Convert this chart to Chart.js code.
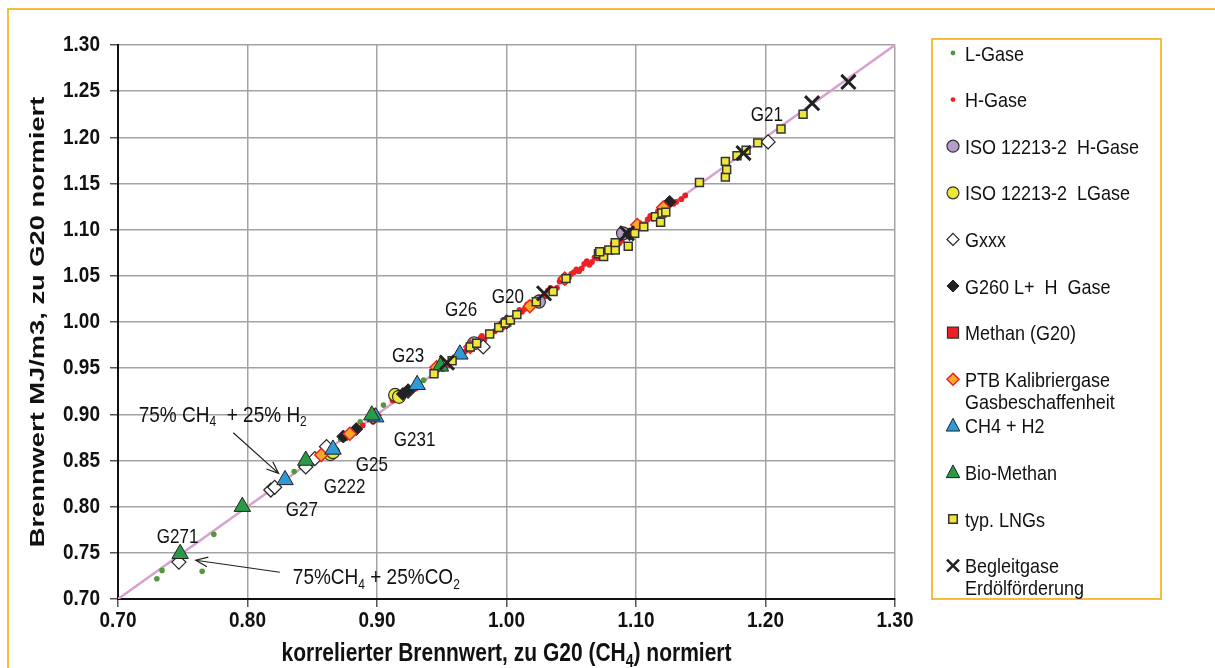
<!DOCTYPE html>
<html><head><meta charset="utf-8">
<script src="https://cdn.jsdelivr.net/npm/chart.js@4.4.0/dist/chart.umd.min.js"></script>
<style>
html,body{margin:0;padding:0;background:#fff;overflow:hidden;}
#wrap{position:relative;width:1215px;height:668px;overflow:hidden;}
#frame{position:absolute;left:7px;top:8px;width:1400px;height:900px;border:2px solid #f6bd3c;box-sizing:border-box;}
canvas{position:absolute;left:0;top:0;}
</style></head><body>
<div id="wrap"><div id="frame"></div><canvas id="c" width="1215" height="668"></canvas></div>
<script>
// ---------- data ----------
const xTicks = [0.70, 0.80, 0.90, 1.00, 1.10, 1.20, 1.30];
const yTicks = [0.70, 0.75, 0.80, 0.85, 0.90, 0.95, 1.00, 1.05, 1.10, 1.15, 1.20, 1.25, 1.30];
const xTitle = [['korrelierter Brennwert, zu G20 (CH',0],['4',1],[') normiert',0]];
const yTitle = [['Brennwert MJ/m3, zu G20 normiert',0]];

const seriesNames = ['L-Gase', 'H-Gase', 'ISO 12213-2  H-Gase', 'ISO 12213-2  LGase', 'Gxxx',
  'G260 L+  H  Gase', 'Methan (G20)', 'PTB Kalibriergase\nGasbeschaffenheit', 'CH4 + H2',
  'Bio-Methan', 'typ. LNGs', 'Begleitgase\nErdölförderung'];

const lGase = [[0.730,0.722],[0.734,0.731],[0.746,0.740],[0.765,0.730],[0.774,0.770],[0.836,0.838],
  [0.851,0.852],[0.858,0.860],[0.872,0.873],[0.887,0.892],[0.905,0.910],[0.913,0.915],[0.936,0.937],[0.945,0.947]];
const hGase = [[0.876,0.874],[0.889,0.888],[0.897,0.892],[0.912,0.915],[0.930,0.928],[0.944,0.946],[0.951,0.949],
  [0.958,0.960],[0.963,0.966],[0.968,0.968],[0.972,0.975],[0.978,0.979],[0.983,0.981],[0.986,0.989],[0.991,0.990],
  [0.995,0.997],[0.999,1.002],[1.004,1.003],[1.008,1.010],[1.012,1.011],[1.016,1.019],[1.020,1.018],[1.025,1.027],
  [1.030,1.028],[1.034,1.037],[1.039,1.037],[1.043,1.046],[1.048,1.049],[1.052,1.054],[1.056,1.055],[1.060,1.063],
  [1.064,1.062],[1.068,1.070],[1.072,1.073],[1.076,1.078],[1.080,1.079],[1.085,1.087],[1.089,1.088],[1.093,1.096],
  [1.097,1.097],[1.101,1.104],[1.105,1.104],[1.109,1.111],[1.113,1.112],[1.117,1.120],[1.121,1.121],[1.125,1.128],
  [1.129,1.128],[1.135,1.133],[1.201,1.197],
  [0.947,0.950],[0.955,0.953],[0.961,0.963],[0.966,0.964],[0.970,0.972],[0.975,0.973],[0.980,0.983],[0.981,0.985],
  [0.988,0.986],[0.993,0.995],[0.997,0.994],[1.001,1.004],[1.006,1.006],[1.010,1.013],[1.014,1.014],[1.018,1.021],
  [1.022,1.023],[1.027,1.025],[1.032,1.034],[1.036,1.035],[1.041,1.044],[1.045,1.043],[1.050,1.052],[1.054,1.057],
  [1.058,1.058],[1.062,1.066],[1.066,1.065],[1.070,1.069],[1.074,1.077],[1.078,1.076],[1.082,1.085],[1.087,1.085],
  [1.091,1.093],[1.095,1.099],[1.099,1.098],[1.103,1.107],[1.107,1.106],[1.111,1.115],[1.115,1.114],[1.119,1.123],
  [1.123,1.122],[1.127,1.131],[1.131,1.130],[1.138,1.137]];
const isoH = [[0.975,0.977],[1.025,1.022],[1.090,1.096]];
const isoL = [[0.864,0.857],[0.866,0.859],[0.914,0.921],[0.917,0.919]];
const gxxx = [[0.747,0.740],[0.818,0.818],[0.821,0.821],[0.845,0.843],[0.852,0.852],[0.861,0.865],[0.897,0.897],
  [0.924,0.925],[0.982,0.973],[1.000,1.000],[1.202,1.195]];
const g260 = [[0.874,0.876],[0.884,0.884],[0.920,0.922],[0.924,0.926],[1.095,1.095],[1.126,1.130]];
const methan = [[1.000,1.000]];
const ptb = [[0.857,0.856],[0.879,0.879],[0.898,0.899],[0.946,0.951],[0.972,0.973],[1.018,1.017],[1.045,1.047],
  [1.101,1.105],[1.121,1.124]];
const ch4h2 = [[0.829,0.829],[0.866,0.862],[0.899,0.897],[0.931,0.932],[0.964,0.965]];
const bio = [[0.748,0.749],[0.796,0.800],[0.845,0.850],[0.896,0.899],[0.949,0.952]];
const lng = [[0.944,0.944],[0.958,0.958],[0.972,0.973],[0.977,0.977],[0.987,0.987],[0.994,0.994],[0.999,0.999],
  [1.003,1.002],[1.008,1.008],[1.023,1.022],[1.036,1.033],[1.046,1.047],[1.071,1.074],[1.075,1.071],[1.072,1.076],
  [1.079,1.078],[1.084,1.078],[1.084,1.086],[1.094,1.082],[1.099,1.096],[1.106,1.103],[1.115,1.114],[1.119,1.108],
  [1.120,1.118],[1.123,1.119],[1.149,1.151],[1.169,1.157],[1.170,1.165],[1.169,1.174],[1.178,1.180],[1.185,1.186],
  [1.194,1.194],[1.212,1.209],[1.229,1.225]];
const begleit = [[0.954,0.956],[1.029,1.031],[1.093,1.096],[1.183,1.183],[1.236,1.237],[1.264,1.260]];
const diagonal = [[0.70,0.70],[1.30,1.30]];

const gasLabels = ['G21','G20','G26','G23','G231','G25','G222','G27','G271'];
const gasLabelX = [1.201,1.001,0.965,0.924,0.929,0.896,0.875,0.842,0.746];
const gasLabelY = [1.224,1.027,1.013,0.963,0.872,0.845,0.821,0.796,0.767];

const noteH2 = [['75% CH',0],['4',1],['  + 25% H',0],['2',1]];
const noteCO2 = [['75%CH',0],['4',1],[' + 25%CO',0],['2',1]];
const noteAnchors = [[0.716,0.899],[0.835,0.723]];
const arrows = [[[0.789,0.880],[0.824,0.836]],[[0.825,0.729],[0.760,0.742]]];

// ---------- styling ----------
const pts = a => a.map(p => ({x:p[0], y:p[1]}));
const styles = [
  {pointStyle:'circle', radius:2.8, bg:'#4f9b3b', bc:'#4f9b3b', bw:0},
  {pointStyle:'circle', radius:2.9, bg:'#ec2126', bc:'#ec2126', bw:0},
  {pointStyle:'circle', radius:6.5, bg:'#b59ccc', bc:'#333', bw:1.2},
  {pointStyle:'circle', radius:6.5, bg:'#efe63a', bc:'#333', bw:1.2},
  {pointStyle:'rectRot', radius:7, bg:'#ffffff', bc:'#222', bw:1.2},
  {pointStyle:'rectRot', radius:6.5, bg:'#222222', bc:'#222', bw:1},
  {pointStyle:'rect', radius:6, bg:'#ec2126', bc:'#333', bw:1.2},
  {pointStyle:'rectRot', radius:6.5, bg:'#f8aa25', bc:'#ec2126', bw:1.5},
  {pointStyle:'triangle', radius:9.5, bg:'#2f9ad6', bc:'#222', bw:1},
  {pointStyle:'triangle', radius:9.5, bg:'#2a9a48', bc:'#222', bw:1},
  {pointStyle:'rect', radius:5.6, bg:'#efe63a', bc:'#333', bw:1.5},
  {pointStyle:'crossRot', radius:10, bg:'#222', bc:'#222', bw:3}
];
const seriesData = [lGase,hGase,isoH,isoL,gxxx,g260,methan,ptb,ch4h2,bio,lng,begleit];

const datasets = seriesData.map((d,i) => ({
  label: seriesNames[i], data: pts(d), pointStyle: styles[i].pointStyle,
  pointRadius: styles[i].radius, pointBackgroundColor: styles[i].bg,
  pointBorderColor: styles[i].bc, pointBorderWidth: styles[i].bw,
  pointHoverRadius: styles[i].radius, order: 50 - i
}));
datasets.push({label:'diag', data: pts(diagonal), showLine:true, borderColor:'#d7a0d0', borderWidth:2.5,
  pointRadius:0, order:100});

const FONT = "'Liberation Sans', Arial, sans-serif";

function drawMarker(ctx, st, x, y, r) {
  ctx.save();
  ctx.fillStyle = st.bg; ctx.strokeStyle = st.bc; ctx.lineWidth = st.bw;
  ctx.beginPath();
  if (st.pointStyle === 'circle') { ctx.arc(x, y, r, 0, Math.PI*2); }
  else if (st.pointStyle === 'rect') { const s = r*0.85; ctx.rect(x-s, y-s, 2*s, 2*s); }
  else if (st.pointStyle === 'rectRot') { ctx.moveTo(x, y-r); ctx.lineTo(x+r, y); ctx.lineTo(x, y+r); ctx.lineTo(x-r, y); ctx.closePath(); }
  else if (st.pointStyle === 'triangle') { ctx.moveTo(x, y-r); ctx.lineTo(x+r*0.9, y+r*0.7); ctx.lineTo(x-r*0.9, y+r*0.7); ctx.closePath(); }
  else if (st.pointStyle === 'crossRot') { const s=r*0.75; ctx.lineWidth = 2.6; ctx.moveTo(x-s,y-s); ctx.lineTo(x+s,y+s); ctx.moveTo(x+s,y-s); ctx.lineTo(x-s,y+s); ctx.stroke(); ctx.restore(); return; }
  ctx.fill(); if (st.bw > 0) ctx.stroke();
  ctx.restore();
}

// rich text with optional subscripts; stretch = elongation factor (sx, sy) in text frame
function drawRich(ctx, segs, x, y, size, weight, align, sx, sy, rot) {
  const w = weight ? weight + ' ' : '';
  let total = 0;
  segs.forEach(([t, sub]) => { ctx.font = w + (sub ? Math.round(size*0.65) : size) + 'px ' + FONT; total += ctx.measureText(t).width; });
  ctx.save();
  ctx.translate(x, y); if (rot) ctx.rotate(rot); ctx.scale(sx, sy);
  let cx = align === 'center' ? -total/2 : (align === 'right' ? -total : 0);
  ctx.textAlign = 'left'; ctx.textBaseline = 'middle';
  segs.forEach(([t, sub]) => {
    ctx.font = w + (sub ? Math.round(size*0.65) : size) + 'px ' + FONT;
    ctx.fillText(t, cx, sub ? size*0.3 : 0);
    cx += ctx.measureText(t).width;
  });
  ctx.restore();
}

const S = 1.2; // vertical elongation of the text in the reference

const extras = {
  id: 'extras',
  afterDatasetsDraw(chart) {
    const ctx = chart.ctx, xs = chart.scales.x, ys = chart.scales.y;
    ctx.save();
    ctx.fillStyle = '#111';
    gasLabels.forEach((t,i) => drawRich(ctx, [[t,0]], xs.getPixelForValue(gasLabelX[i]), ys.getPixelForValue(gasLabelY[i]), 17, '', 'center', 1, S));
    [noteH2, noteCO2].forEach((segs,i) => drawRich(ctx, segs, xs.getPixelForValue(noteAnchors[i][0]), ys.getPixelForValue(noteAnchors[i][1]), 19, '', 'left', 1, S));
    ctx.strokeStyle = '#222'; ctx.lineWidth = 1.2;
    arrows.forEach(([a,b]) => {
      const x1 = xs.getPixelForValue(a[0]), y1 = ys.getPixelForValue(a[1]);
      const x2 = xs.getPixelForValue(b[0]), y2 = ys.getPixelForValue(b[1]);
      const ang = Math.atan2(y2-y1, x2-x1), L = 13, w = 0.38;
      ctx.beginPath(); ctx.moveTo(x1,y1); ctx.lineTo(x2,y2);
      ctx.moveTo(x2 - L*Math.cos(ang-w), y2 - L*Math.sin(ang-w)); ctx.lineTo(x2,y2);
      ctx.lineTo(x2 - L*Math.cos(ang+w), y2 - L*Math.sin(ang+w));
      ctx.stroke();
    });
    ctx.restore();
  },
  afterDraw(chart) {
    const ctx = chart.ctx, xs = chart.scales.x, ys = chart.scales.y, ca = chart.chartArea;
    ctx.save();
    ctx.fillStyle = '#111';
    // tick labels
    xTicks.forEach(v => drawRich(ctx, [[v.toFixed(2),0]], xs.getPixelForValue(v), ca.bottom + 22, 19, 'bold', 'center', 1, S));
    yTicks.forEach(v => drawRich(ctx, [[v.toFixed(2),0]], ca.left - 18, ys.getPixelForValue(v), 19, 'bold', 'right', 1, S));
    // axis titles
    drawRich(ctx, xTitle, (ca.left + ca.right)/2, 654, 21, 'bold', 'center', 1, 1.25);
    drawRich(ctx, yTitle, 38, (ca.top + ca.bottom)/2, 21, 'bold', 'center', 1.3, 1, -Math.PI/2);
    // legend
    ctx.strokeStyle = '#f6bd3c'; ctx.lineWidth = 2;
    ctx.strokeRect(932, 39, 229, 560);
    seriesNames.forEach((name, i) => {
      const y = 55 + i*46.6;
      const st = styles[i];
      let r = st.radius;
      if (st.pointStyle === 'triangle') r = 7.5;
      if (st.pointStyle === 'rectRot') r = 6;
      if (st.pointStyle === 'circle' && r > 3) r = 6;
      if (st.pointStyle === 'circle' && r <= 3) r = 2.4;
      if (st.pointStyle === 'rect' && r > 5.8) r = 6.5;
      else if (st.pointStyle === 'rect') r = 5;
      if (st.pointStyle === 'crossRot') r = 8;
      drawMarker(ctx, st, 953, y - 2, r);
      name.split('\n').forEach((ln, k) => drawRich(ctx, [[ln,0]], 965, y + k*22, 18, '', 'left', 1, 1.12));
    });
    ctx.restore();
  }
};

new Chart(document.getElementById('c'), {
  type: 'scatter',
  data: { datasets },
  options: {
    responsive: false, animation: false, devicePixelRatio: 1,
    layout: { padding: { left: 0, right: 320, top: 45, bottom: 0 } },
    plugins: { legend: { display: false }, tooltip: { enabled: false } },
    scales: {
      x: {
        type: 'linear', min: xTicks[0], max: xTicks[xTicks.length-1],
        afterFit: s => { s.height = 69; },
        afterBuildTicks: s => { s.ticks = xTicks.map(v => ({value: v})); },
        ticks: { display: false },
        grid: { color: '#a3a3a3', lineWidth: 1.5, tickLength: 8, tickColor: '#555' },
        border: { display: true, color: '#111', width: 2 },
        title: { display: false }
      },
      y: {
        type: 'linear', min: yTicks[0], max: yTicks[yTicks.length-1],
        afterFit: s => { s.width = 118; },
        afterBuildTicks: s => { s.ticks = yTicks.map(v => ({value: v})); },
        ticks: { display: false },
        grid: { color: '#a3a3a3', lineWidth: 1.5, tickLength: 8, tickColor: '#555' },
        border: { display: true, color: '#111', width: 2 },
        title: { display: false }
      }
    }
  },
  plugins: [extras]
});
</script>
</body></html>
